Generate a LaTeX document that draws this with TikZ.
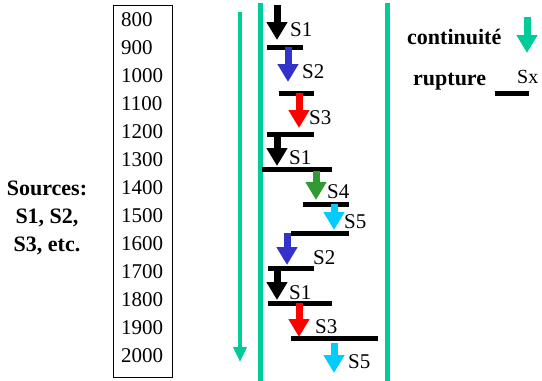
\documentclass[tikz,border=0pt]{standalone}
\usepackage{fontspec}
\setmainfont{Liberation Serif}
\usetikzlibrary{arrows.meta}
\definecolor{contigreen}{RGB}{0, 204, 153}
\definecolor{srcblue}{RGB}{51, 51, 204}
\definecolor{srcgreen}{RGB}{51, 153, 51}
\definecolor{srccyan}{RGB}{0, 204, 255}

\begin{document}
\begin{tikzpicture}[
  x=1pt, y=-1pt,
  year/.style={anchor=west, inner sep=0pt, font=\fontsize{21}{25}\selectfont},
  lab/.style={anchor=west, inner sep=0pt, font=\fontsize{21}{25}\selectfont},
  legend/.style={anchor=west, inner sep=0pt, font=\fontsize{22}{28}\selectfont\bfseries},
  flow/.style={line width=7pt, -{Triangle[length=18pt, width=20pt]}},
  bar/.style={line width=5pt},
  wall/.style={contigreen, line width=5pt}
]
  \useasboundingbox (0,0) rectangle (542,381);

  % sources
  \node[legend, anchor=center, align=center] (sources) at (47,218) {Sources:\\S1, S2,\\S3, etc.};

  % years
  \draw[line width=0.8pt] (113,5) rectangle (172,377);
  \foreach \yr [count=\k] in {800,900,1000,1100,1200,1300,1400,1500,1600,1700,1800,1900,2000}
    \node[year] (y\yr) at (121, {20+28*(\k-1)}) {\yr};

  % continuity
  \coordinate (ctop) at (240,12);
  \coordinate (cend) at (240,362);
  \draw[contigreen, line width=4pt, -{Triangle[length=15pt, width=13pt]}] (ctop) -- (cend);
  \draw[wall] (260,3) -- (260,381);
  \draw[wall] (387,3) -- (387,381);

  % ruptures
  \foreach \xa/\xb/\y in {267/303/47, 279/314/93, 267/314/134, 262/332/169, 303/349/204,
                          291/349/233, 268/314/268, 268/332/303, 291/378/338}
    \draw[bar] (\xa,\y) -- (\xb,\y);

  % sources per period
  \foreach \i/\x/\ya/\yb/\c/\t/\lx/\ly in {
      1/277/5/40/black/S1/290/30,
      2/288/47/82/srcblue/S2/302/72,
      3/299/93/128/red/S3/309/118,
      4/277/134/166/black/S1/289/158,
      5/316/171/200/srcgreen/S4/327/192,
      6/334/204/230/srccyan/S5/344/222,
      7/287/233/265/srcblue/S2/313/258,
      8/277/268/300/black/S1/289/293,
      9/299/303/337/red/S3/315/327,
      10/334/343/373/srccyan/S5/348/362} {
    \coordinate (top\i) at (\x,\ya);
    \coordinate (tip\i) at (\x,\yb);
    \draw[flow, \c] (top\i) -- (tip\i);
    \node[lab] (s\i) at (\lx,\ly) {\t};
  }

  % legend
  \node[legend] (conti) at (407,37) {continuité};
  \coordinate (ltop) at (527,17);
  \coordinate (ltip) at (527,53);
  \draw[flow, contigreen] (ltop) -- (ltip);
  \node[legend] (rupt) at (413,82) {rupture};
  \draw[bar] (495,93) -- (529,93);
  \node[lab, font=\fontsize{20}{24}\selectfont] (sx) at (517,77) {Sx};
\end{tikzpicture}
\end{document}
